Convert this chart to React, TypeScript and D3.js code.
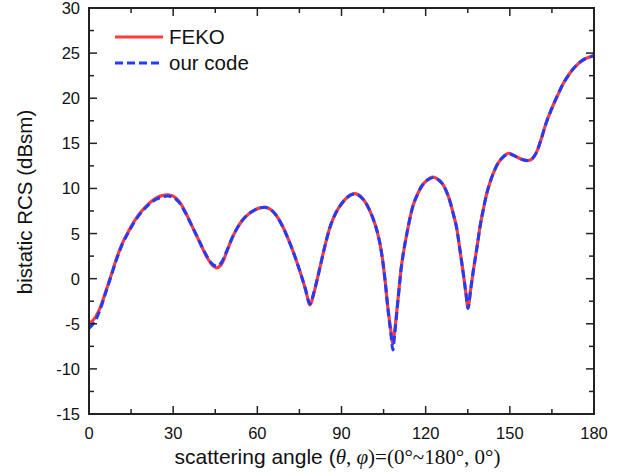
import React, { useRef, useEffect } from "react";
import * as d3 from "d3";

// scattering angle (deg)
const angles = [
  0, 2, 4, 6, 8, 10, 12, 14, 16, 18, 20, 22, 24, 26, 28, 30, 32, 34, 36, 38,
  40, 42, 44, 45.5, 47, 49, 51, 53, 55, 57, 59, 61, 63, 65, 67, 69, 71, 73, 75, 77,
  78.8, 80, 82, 84, 86, 88, 90, 92, 94, 96, 98, 100, 102, 103.5, 104.5, 105.5, 106.6, 107.6, 108.3, 109,
  110.2, 111.5, 113.3, 115.5, 117, 118.7, 120.5, 122.5, 124, 126, 128, 130, 131, 132.3, 133.4, 134.3, 135.1, 136, 137, 138.3,
  139.5, 140.5, 142, 144, 146, 148, 149.5, 151, 153, 155, 156.5, 158, 159.5, 161, 163, 165, 167, 169, 171, 173,
  175, 177, 180,
];

const feko = [
  -5.0, -4.4, -3.2, -1.4, 0.5, 2.4, 4.0, 5.2, 6.3, 7.2, 7.9, 8.5, 8.95, 9.2, 9.3, 9.15, 8.6, 7.6, 6.3, 5.0,
  3.7, 2.4, 1.5, 1.2, 1.5, 2.9, 4.5, 5.7, 6.6, 7.2, 7.6, 7.85, 7.9, 7.6, 6.9, 5.8, 4.4, 2.8, 1.0, -1.0,
  -2.9, -1.8, 0.8, 3.5, 5.8, 7.3, 8.3, 9.0, 9.4, 9.3, 8.7, 7.6, 6.0, 4.2, 2.4, -0.1, -3.4, -5.8, -7.2, -5.7,
  -2.1, 1.7, 5.0, 8.1, 9.3, 10.3, 10.9, 11.25, 11.1, 10.5, 9.2, 7.0, 5.7, 3.0, 0.6, -1.5, -3.2, -1.3, 0.9, 3.5,
  6.0, 7.6, 9.7, 11.6, 12.9, 13.6, 13.9, 13.75, 13.4, 13.15, 13.1, 13.3, 14.0, 15.3, 17.3, 18.9, 20.3, 21.6, 22.6, 23.4,
  24.0, 24.4, 24.7,
];

const ourCode = [
  -5.5, -4.8, -3.4, -1.5, 0.4, 2.3, 3.9, 5.1, 6.2, 7.1, 7.8, 8.4, 8.8, 9.05, 9.15, 9.0, 8.5, 7.5, 6.3, 5.0,
  3.7, 2.5, 1.6, 1.4, 1.7, 3.0, 4.5, 5.7, 6.6, 7.2, 7.6, 7.85, 7.9, 7.6, 6.9, 5.8, 4.4, 2.8, 1.0, -1.0,
  -2.8, -1.7, 0.8, 3.5, 5.8, 7.3, 8.3, 9.0, 9.35, 9.25, 8.7, 7.6, 6.0, 4.2, 2.4, -0.1, -3.5, -6.1, -7.9, -6.0,
  -2.2, 1.7, 5.0, 8.1, 9.3, 10.3, 10.9, 11.2, 11.1, 10.5, 9.2, 7.0, 5.7, 3.0, 0.6, -1.5, -3.3, -1.3, 0.9, 3.5,
  6.0, 7.6, 9.7, 11.6, 12.9, 13.6, 13.85, 13.7, 13.4, 13.15, 13.1, 13.3, 14.0, 15.3, 17.3, 18.9, 20.3, 21.6, 22.6, 23.4,
  24.0, 24.4, 24.7,
];

const xTicks = [0, 30, 60, 90, 120, 150, 180];
const yTicks = [-15, -10, -5, 0, 5, 10, 15, 20, 25, 30];
const seriesNames = ["FEKO", "our code"];

const W = 623;
const H = 473;
const margin = { top: 8, right: 29, bottom: 59, left: 89 };
const sans = "'Liberation Sans', Arial, sans-serif";
const serif = "'Liberation Serif', 'Times New Roman', serif";

export default function App() {
  const ref = useRef<SVGSVGElement | null>(null);

  useEffect(() => {
    if (!ref.current) return;
    const svg = d3.select(ref.current);
    svg.selectAll("*").remove();

    const iw = W - margin.left - margin.right;
    const ih = H - margin.top - margin.bottom;
    const x = d3.scaleLinear().domain([0, 180]).range([0, iw]);
    const y = d3.scaleLinear().domain([-15, 30]).range([ih, 0]);

    const g = svg.append("g").attr("transform", `translate(${margin.left},${margin.top})`);

    // curves
    const line = d3
      .line<number>()
      .x((_d, i) => x(angles[i]))
      .y((d) => y(d))
      .curve(d3.curveCatmullRom.alpha(0.5));

    g.append("path")
      .datum(feko)
      .attr("d", line)
      .attr("fill", "none")
      .attr("stroke", "#ff3b3b")
      .attr("stroke-width", 3.2);

    g.append("path")
      .datum(ourCode)
      .attr("d", line)
      .attr("fill", "none")
      .attr("stroke", "#1f3cff")
      .attr("stroke-width", 3)
      .attr("stroke-dasharray", "8,4");

    // ticks on all four sides, pointing inward
    const tk = "#222";
    const xMinor = d3.range(0, 181, 15);
    const yMinor = d3.range(-15, 30.1, 2.5);
    xMinor.forEach((v) => {
      const len = v % 30 === 0 ? 8 : 5;
      g.append("line").attr("x1", x(v)).attr("x2", x(v)).attr("y1", ih).attr("y2", ih - len).attr("stroke", tk).attr("stroke-width", 1.5);
      g.append("line").attr("x1", x(v)).attr("x2", x(v)).attr("y1", 0).attr("y2", len).attr("stroke", tk).attr("stroke-width", 1.5);
    });
    yMinor.forEach((v) => {
      const len = v % 5 === 0 ? 8 : 5;
      g.append("line").attr("x1", 0).attr("x2", len).attr("y1", y(v)).attr("y2", y(v)).attr("stroke", tk).attr("stroke-width", 1.5);
      g.append("line").attr("x1", iw).attr("x2", iw - len).attr("y1", y(v)).attr("y2", y(v)).attr("stroke", tk).attr("stroke-width", 1.5);
    });

    // frame
    g.append("rect")
      .attr("width", iw)
      .attr("height", ih)
      .attr("fill", "none")
      .attr("stroke", tk)
      .attr("stroke-width", 2);

    // tick labels
    g.selectAll("text.xt")
      .data(xTicks)
      .enter()
      .append("text")
      .attr("class", "xt")
      .attr("x", (d) => x(d))
      .attr("y", ih + 25)
      .attr("text-anchor", "middle")
      .attr("font-family", sans)
      .attr("font-size", 16.5)
      .attr("fill", "#111")
      .text((d) => d);

    g.selectAll("text.yt")
      .data(yTicks)
      .enter()
      .append("text")
      .attr("class", "yt")
      .attr("x", -9)
      .attr("y", (d) => y(d) + 6)
      .attr("text-anchor", "end")
      .attr("font-family", sans)
      .attr("font-size", 16.5)
      .attr("fill", "#111")
      .text((d) => d);

    // axis titles
    const xt = svg
      .append("text")
      .attr("x", margin.left + iw / 2 - 4)
      .attr("y", 464)
      .attr("text-anchor", "middle")
      .attr("font-family", sans)
      .attr("font-size", 21)
      .attr("fill", "#111");
    xt.append("tspan").text("scattering angle (");
    xt.append("tspan").attr("font-family", serif).attr("font-style", "italic").text("θ");
    xt.append("tspan").attr("font-family", serif).text(", ");
    xt.append("tspan").attr("font-family", serif).attr("font-style", "italic").text("φ");
    xt.append("tspan").attr("font-family", serif).text(")=(0°~180°, 0°)");

    svg
      .append("text")
      .attr("transform", `translate(32,${margin.top + 194}) rotate(-90)`)
      .attr("text-anchor", "middle")
      .attr("font-family", sans)
      .attr("font-size", 20.5)
      .attr("fill", "#111")
      .text("bistatic RCS (dBsm)");

    // legend
    const leg = g.append("g").attr("transform", "translate(26,29)");
    seriesNames.forEach((name, i) => {
      const ly = i * 26;
      leg.append("line")
        .attr("x1", 0)
        .attr("x2", 48)
        .attr("y1", ly)
        .attr("y2", ly)
        .attr("stroke", i === 0 ? "#ff3b3b" : "#1f3cff")
        .attr("stroke-width", 3)
        .attr("stroke-dasharray", i === 0 ? null : "8,4");
      leg.append("text")
        .attr("x", 54)
        .attr("y", ly + 7)
        .attr("font-family", sans)
        .attr("font-size", 20.5)
        .attr("fill", "#111")
        .text(name);
    });
  }, []);

  return (
    <>
      <style>{`body{margin:0}`}</style>
      <svg ref={ref} width={W} height={H} style={{ display: "block", background: "#fff" }} />
    </>
  );
}
